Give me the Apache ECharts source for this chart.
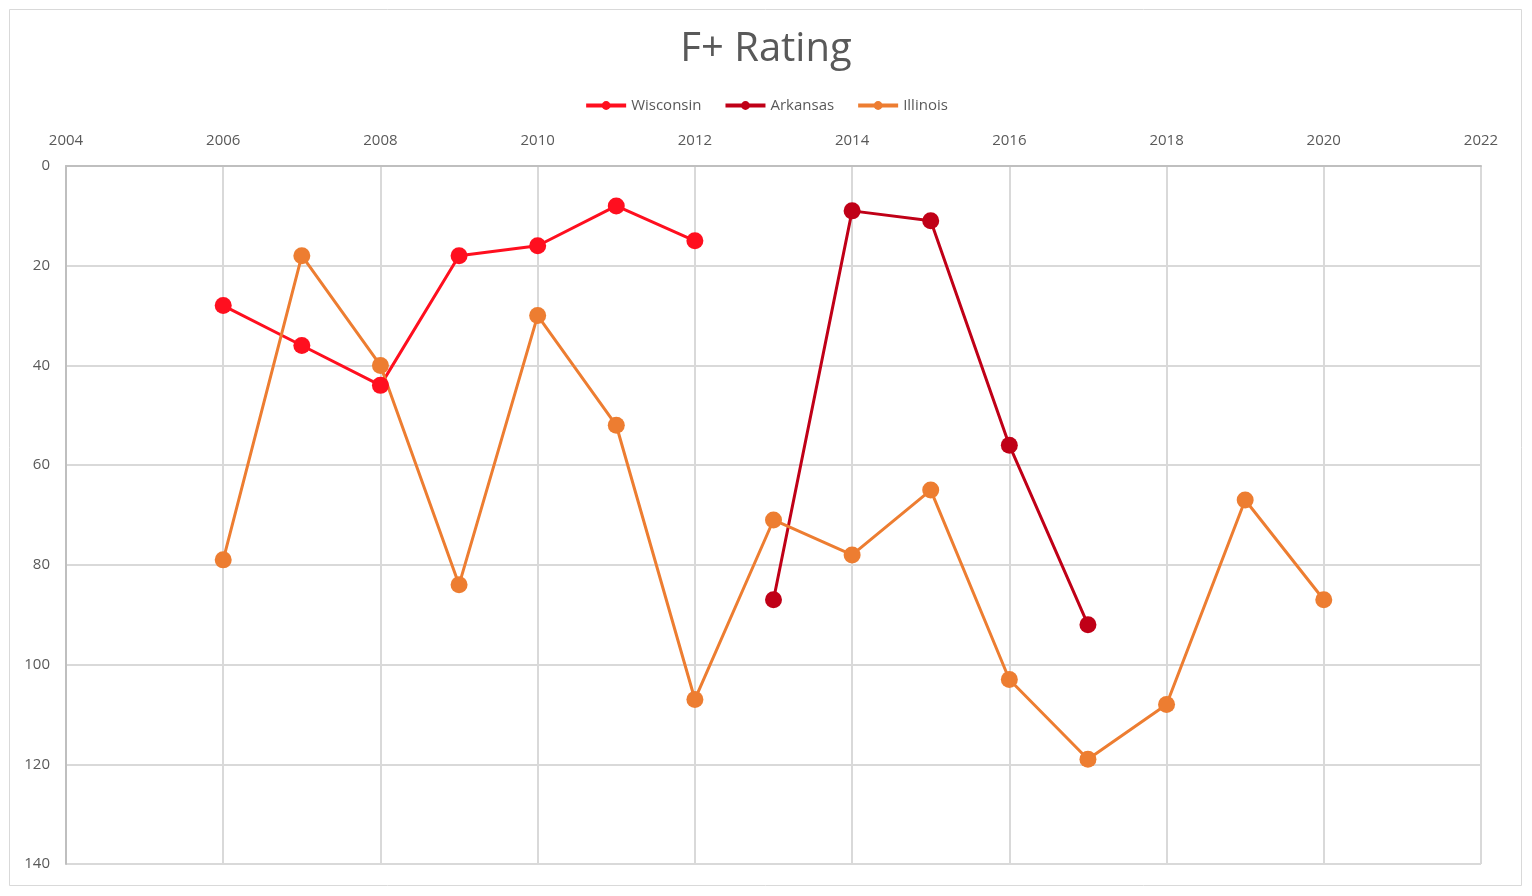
<!DOCTYPE html>
<html>
<head>
<meta charset="utf-8">
<script src="https://cdn.jsdelivr.net/npm/echarts@6/dist/echarts.min.js"></script>
<style>
  html, body { margin: 0; padding: 0; background: #fff; }
  #chart { width: 1532px; height: 896px; }
</style>
</head>
<body>
<div id="chart"></div>
<script>
// F+ rating by season, lower number = better, so the y axis runs top-down
const wisconsinYears = [2006, 2007, 2008, 2009, 2010, 2011, 2012]
const wisconsinRank = [28, 36, 44, 18, 16, 8, 15]

const arkansasYears = [2013, 2014, 2015, 2016, 2017]
const arkansasRank = [87, 9, 11, 56, 92]

const illinoisYears = [2006, 2007, 2008, 2009, 2010, 2011, 2012, 2013, 2014, 2015, 2016, 2017, 2018, 2019, 2020]
const illinoisRank = [79, 18, 40, 84, 30, 52, 107, 71, 78, 65, 103, 119, 108, 67, 87]

const pairs = (xs, ys) => xs.map((x, i) => [x, ys[i]])

const textColor = "#595959"
const font = "'Open Sans', 'Liberation Sans', sans-serif"

function line(name, color, xs, ys) {
  return {
    name,
    type: "line",
    data: pairs(xs, ys),
    symbol: "circle",
    symbolSize: 17,
    lineStyle: { color, width: 3 },
    itemStyle: { color },
    z: 3
  }
}

const chart = echarts.init(document.getElementById("chart"), null, { renderer: "canvas" })

chart.setOption({
  backgroundColor: "#fff",
  animation: false,
  graphic: [{
    type: "rect",
    shape: { x: 9.5, y: 9.5, width: 1512, height: 876 },
    style: { fill: "none", stroke: "#d9d9d9", lineWidth: 1 },
    silent: true
  }],
  title: {
    text: "F+ Rating",
    left: "center",
    top: 25,
    textStyle: { color: textColor, fontSize: 40, fontWeight: "normal", fontFamily: font }
  },
  legend: {
    top: 93,
    left: "center",
    itemWidth: 40,
    itemHeight: 11,
    itemGap: 22,
    lineStyle: { width: 4 },
    textStyle: { color: textColor, fontSize: 15, fontFamily: font },
    data: ["Wisconsin", "Arkansas", "Illinois"]
  },
  grid: { left: 66, right: 51, top: 166, bottom: 32, containLabel: false },
  xAxis: {
    type: "value",
    position: "top",
    min: 2004,
    max: 2022,
    interval: 2,
    axisLine: { show: true, lineStyle: { color: "#bfbfbf", width: 2 } },
    axisTick: { show: false },
    axisLabel: { color: textColor, fontSize: 15, fontFamily: font, margin: 18, formatter: v => String(v) },
    splitLine: { show: true, lineStyle: { color: "#d9d9d9", width: 2 } }
  },
  yAxis: {
    type: "value",
    inverse: true,
    min: 0,
    max: 140,
    interval: 20,
    axisLine: { show: true, lineStyle: { color: "#bfbfbf", width: 2 } },
    axisTick: { show: false },
    axisLabel: { color: textColor, fontSize: 15, fontFamily: font, margin: 16 },
    splitLine: { show: true, lineStyle: { color: "#d9d9d9", width: 2 } }
  },
  series: [
    line("Wisconsin", "#ff0f1f", wisconsinYears, wisconsinRank),
    line("Arkansas", "#c00017", arkansasYears, arkansasRank),
    line("Illinois", "#ed7d31", illinoisYears, illinoisRank)
  ]
})
</script>
</body>
</html>
